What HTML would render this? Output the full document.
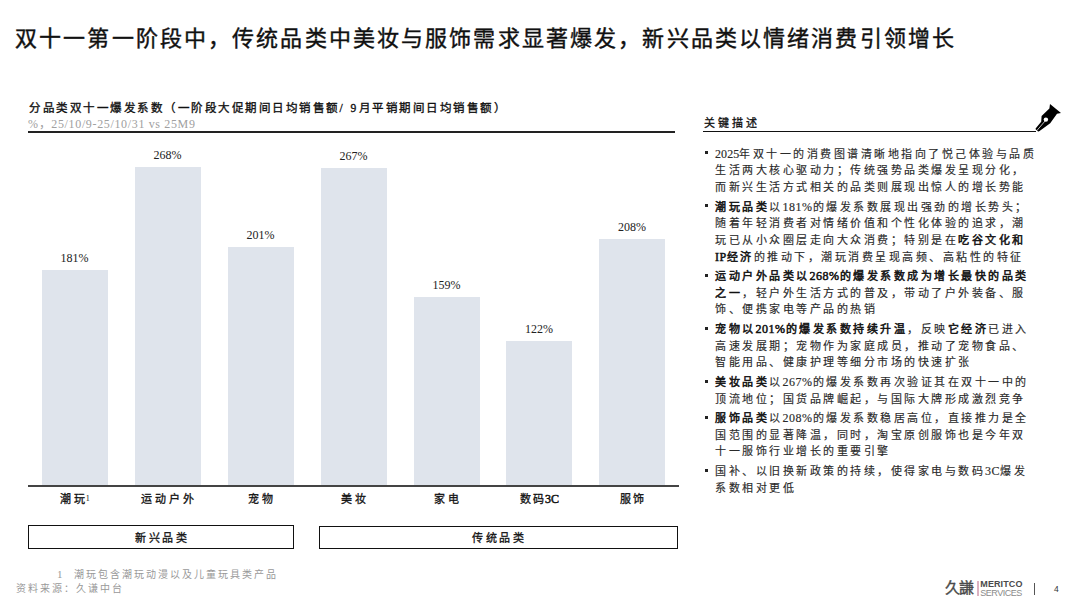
<!DOCTYPE html>
<html lang="zh-CN">
<head>
<meta charset="utf-8">
<style>
html,body{margin:0;padding:0;background:#fff;}
body{width:1080px;height:608px;position:relative;overflow:hidden;font-family:"Liberation Serif",serif;color:#222;}
.abs{position:absolute;white-space:nowrap;}
#title{left:15px;top:24px;font-size:22px;letter-spacing:2.13px;font-weight:normal;-webkit-text-stroke:0.4px #111;color:#111;line-height:30px;}
#ctitle{left:29px;top:99px;font-size:11.5px;letter-spacing:2.5px;font-weight:normal;-webkit-text-stroke:0.35px #111;color:#111;line-height:18px;}
#csub{left:28px;top:116px;font-size:12px;letter-spacing:0.65px;color:#a0a0a0;line-height:16px;}
.hline{position:absolute;background:#222;}
.bar{position:absolute;background:#dfe4ec;width:66px;}
.val{position:absolute;width:100px;text-align:center;font-size:12px;color:#222;line-height:14px;}
.cat{position:absolute;width:100px;text-align:center;font-size:11px;font-weight:normal;-webkit-text-stroke:0.3px #111;letter-spacing:2.7px;text-indent:2.7px;color:#111;line-height:16px;}
.box{position:absolute;border:1.5px solid #111;box-sizing:border-box;text-align:center;font-size:11px;font-weight:normal;-webkit-text-stroke:0.3px #111;letter-spacing:2.6px;text-indent:2.6px;color:#111;}
#key{left:704px;top:115px;font-size:11px;font-weight:normal;-webkit-text-stroke:0.3px #111;letter-spacing:2.9px;color:#111;line-height:16px;}
.ln{position:absolute;left:715px;font-size:11px;letter-spacing:2.5px;color:#2a2a2a;-webkit-text-stroke:0.15px #2a2a2a;line-height:16px;white-space:nowrap;}
.ln b{color:#111;font-weight:normal;-webkit-text-stroke:0.5px #111;}
.n{letter-spacing:0.5px;font-size:12px;}
.blt{position:absolute;left:705px;width:3px;height:3px;background:#222;}
.foot{position:absolute;font-size:10px;color:#999;letter-spacing:2.05px;line-height:14px;white-space:nowrap;}
</style>
</head>
<body>
<div id="title" class="abs">双十一第一阶段中，传统品类中美妆与服饰需求显著爆发，新兴品类以情绪消费引领增长</div>

<div id="ctitle" class="abs">分品类双十一爆发系数（一阶段大促期间日均销售额/ 9月平销期间日均销售额）</div>
<div id="csub" class="abs">%，25/10/9-25/10/31 vs 25M9</div>
<div class="hline" style="left:28px;top:131px;width:647px;height:2px;"></div>

<!-- bars: baseline 485, 1.186px per % -->
<div class="bar" style="left:41.5px;top:270px;height:215px;"></div>
<div class="bar" style="left:134.5px;top:167px;height:318px;"></div>
<div class="bar" style="left:227.5px;top:247px;height:238px;"></div>
<div class="bar" style="left:320.5px;top:168px;height:317px;"></div>
<div class="bar" style="left:413.5px;top:297px;height:188px;"></div>
<div class="bar" style="left:506px;top:341px;height:144px;"></div>
<div class="bar" style="left:599px;top:238.5px;height:246.5px;"></div>

<div class="val" style="left:24.5px;top:251px;">181%</div>
<div class="val" style="left:117.5px;top:148px;">268%</div>
<div class="val" style="left:210.5px;top:228px;">201%</div>
<div class="val" style="left:303.5px;top:149px;">267%</div>
<div class="val" style="left:396.5px;top:278px;">159%</div>
<div class="val" style="left:489px;top:322px;">122%</div>
<div class="val" style="left:582px;top:219.5px;">208%</div>

<div class="hline" style="left:28px;top:484.5px;width:651px;height:2px;background:#444;"></div>

<div class="cat" style="left:23.5px;top:491px;">潮玩<span style="font-size:8px;-webkit-text-stroke:0;vertical-align:2px;letter-spacing:0;margin-left:-1.5px">1</span></div>
<div class="cat" style="left:117.5px;top:491px;">运动户外</div>
<div class="cat" style="left:210.5px;top:491px;">宠物</div>
<div class="cat" style="left:303.5px;top:491px;">美妆</div>
<div class="cat" style="left:396.5px;top:491px;">家电</div>
<div class="cat" style="left:488px;top:491px;">数码<span style="letter-spacing:0;font-size:12px;margin-left:-2px;-webkit-text-stroke:0.5px #111">3C</span></div>
<div class="cat" style="left:582px;top:491px;">服饰</div>

<div class="box" style="left:28px;top:525px;width:266px;height:24px;line-height:25px;">新兴品类</div>
<div class="box" style="left:318.5px;top:526px;width:359px;height:23px;line-height:23px;">传统品类</div>

<div class="foot" style="left:57px;top:567px;"><span style="font-size:11px;letter-spacing:0">1</span><span style="display:inline-block;width:11px"></span>潮玩包含潮玩动漫以及儿童玩具类产品</div>
<div class="foot" style="left:16px;top:582px;">资料来源：久谦中台</div>

<!-- right panel -->
<div id="key" class="abs">关键描述</div>
<div class="hline" style="left:703px;top:130.5px;width:333px;height:1.5px;background:#111;"></div>
<svg style="position:absolute;left:1030px;top:100px;" width="36" height="36" viewBox="1030 100 36 36">
  <path d="M1050 103.9 L1061 113 L1057 113.7 L1050.2 123.3 L1039.6 131 Q1038.6 131.8 1037.8 131.2 L1035.9 129.6 Q1035.2 128.9 1035.8 128.3 L1041.2 121.8 L1041.6 116.1 L1049.4 108.6 Z" fill="#000"/>
  <circle cx="1045.9" cy="119.6" r="2.2" fill="#fff"/>
  <path d="M1045.6 120.4 L1036.8 130.6" stroke="#fff" stroke-width="0.75"/>
</svg>


<!-- logo -->
<div class="abs" style="left:945px;top:577px;font-family:'Liberation Sans',sans-serif;font-size:15px;line-height:22px;color:#4a4a4a;letter-spacing:-1px;-webkit-text-stroke:0.4px #4a4a4a;">久謙</div>
<div style="position:absolute;left:977.2px;top:581px;width:1.7px;height:15.4px;background:#dcb2c2;"></div>
<div class="abs" style="left:980.3px;top:579px;font-family:'Liberation Sans',sans-serif;font-size:9px;font-weight:bold;line-height:10px;color:#4a4a4a;letter-spacing:0.1px;">MERITCO</div>
<div class="abs" style="left:980.3px;top:587.5px;font-family:'Liberation Sans',sans-serif;font-size:9px;line-height:10px;color:#8a8a8a;letter-spacing:-0.5px;">SERVICES</div>
<div style="position:absolute;left:1033.6px;top:583px;width:1.4px;height:12px;background:#555;"></div>
<div class="abs" style="left:1054px;top:583.5px;font-family:'Liberation Sans',sans-serif;font-size:8.5px;line-height:10px;color:#333;">4</div>
<div id="bullets">
<div class="blt" style="top:151.4px;"></div>
<div class="ln" style="top:145.6px;"><span class="n" style="letter-spacing:0.1px">2025</span>年双十一的消费图谱清晰地指向了悦己体验与品质</div>
<div class="ln" style="top:162.3px;">生活两大核心驱动力；传统强势品类爆发呈现分化，</div>
<div class="ln" style="top:179.0px;">而新兴生活方式相关的品类则展现出惊人的增长势能</div>
<div class="blt" style="top:204.3px;"></div>
<div class="ln" style="top:198.5px;"><b>潮玩品类</b>以<span class="n">181%</span>的爆发系数展现出强劲的增长势头；</div>
<div class="ln" style="top:215.2px;">随着年轻消费者对情绪价值和个性化体验的追求，潮</div>
<div class="ln" style="top:231.9px;">玩已从小众圈层走向大众消费；特别是在<b>吃谷文化和</b></div>
<div class="ln" style="top:248.6px;"><b><span class="n">IP</span>经济</b>的推动下，潮玩消费呈现高频、高粘性的特征</div>
<div class="blt" style="top:273.8px;"></div>
<div class="ln" style="top:268.0px;"><b>运动户外品类以<span class="n">268%</span>的爆发系数成为增长最快的品类</b></div>
<div class="ln" style="top:284.7px;"><b>之一</b>，轻户外生活方式的普及，带动了户外装备、服</div>
<div class="ln" style="top:301.4px;">饰、便携家电等产品的热销</div>
<div class="blt" style="top:326.7px;"></div>
<div class="ln" style="top:320.9px;"><b>宠物以<span class="n">201%</span>的爆发系数持续升温</b>，反映<b>它经济</b>已进入</div>
<div class="ln" style="top:337.6px;">高速发展期；宠物作为家庭成员，推动了宠物食品、</div>
<div class="ln" style="top:354.3px;">智能用品、健康护理等细分市场的快速扩张</div>
<div class="blt" style="top:379.6px;"></div>
<div class="ln" style="top:373.8px;"><b>美妆品类</b>以<span class="n">267%</span>的爆发系数再次验证其在双十一中的</div>
<div class="ln" style="top:390.5px;">顶流地位；国货品牌崛起，与国际大牌形成激烈竞争</div>
<div class="blt" style="top:415.7px;"></div>
<div class="ln" style="top:409.9px;"><b>服饰品类</b>以<span class="n">208%</span>的爆发系数稳居高位，直接推力是全</div>
<div class="ln" style="top:426.6px;">国范围的显著降温，同时，淘宝原创服饰也是今年双</div>
<div class="ln" style="top:443.3px;">十一服饰行业增长的重要引擎</div>
<div class="blt" style="top:468.6px;"></div>
<div class="ln" style="top:462.8px;">国补、以旧换新政策的持续，使得家电与数码<span class="n">3C</span>爆发</div>
<div class="ln" style="top:479.5px;">系数相对更低</div>
</div>
</body>
</html>
